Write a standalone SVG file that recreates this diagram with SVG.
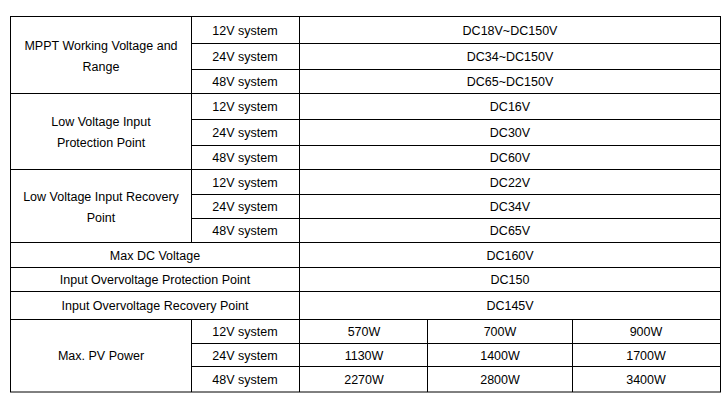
<svg xmlns="http://www.w3.org/2000/svg" width="723" height="400" viewBox="0 0 723 400">
<style>
.g line{stroke:#000;stroke-width:1}
text{font-family:"Liberation Sans",Arial,sans-serif;font-size:12.5px;fill:#000;text-anchor:middle}
</style>
<rect width="723" height="400" fill="#fff"/>
<g id="grid" class="g">
<rect x="10.5" y="16.5" width="710" height="375.5" fill="none" stroke="#000"/>
<line x1="191.5" y1="16" x2="191.5" y2="242"/>
<line x1="191.5" y1="319" x2="191.5" y2="392"/>
<line x1="299.5" y1="16" x2="299.5" y2="392"/>
<line x1="427.5" y1="319" x2="427.5" y2="392"/>
<line x1="572.5" y1="319" x2="572.5" y2="392"/>
<line x1="191" y1="43.5" x2="721" y2="43.5"/>
<line x1="191" y1="69.5" x2="721" y2="69.5"/>
<line x1="10" y1="93.5" x2="721" y2="93.5"/>
<line x1="191" y1="119.5" x2="721" y2="119.5"/>
<line x1="191" y1="145.5" x2="721" y2="145.5"/>
<line x1="10" y1="169.5" x2="721" y2="169.5"/>
<line x1="191" y1="194.5" x2="721" y2="194.5"/>
<line x1="191" y1="218.5" x2="721" y2="218.5"/>
<line x1="10" y1="242.5" x2="721" y2="242.5"/>
<line x1="10" y1="267.5" x2="721" y2="267.5"/>
<line x1="10" y1="291.5" x2="721" y2="291.5"/>
<line x1="10" y1="319.5" x2="721" y2="319.5"/>
<line x1="191" y1="343.5" x2="721" y2="343.5"/>
<line x1="191" y1="366.5" x2="721" y2="366.5"/>
</g>
<g id="labels">
<text x="101" y="50">MPPT Working Voltage and</text><text x="101" y="71">Range</text>
<text x="101" y="126">Low Voltage Input</text><text x="101" y="147">Protection Point</text>
<text x="101" y="201">Low Voltage Input Recovery</text><text x="101" y="222">Point</text>
<text x="155" y="260">Max DC Voltage</text>
<text x="155" y="284">Input Overvoltage Protection Point</text>
<text x="155" y="310">Input Overvoltage Recovery Point</text>
<text x="101" y="360">Max. PV Power</text>
</g>
<g id="systems">
<text x="245" y="35">12V system</text><text x="245" y="61">24V system</text><text x="245" y="86">48V system</text>
<text x="245" y="111">12V system</text><text x="245" y="137">24V system</text><text x="245" y="162">48V system</text>
<text x="245" y="187">12V system</text><text x="245" y="211">24V system</text><text x="245" y="235">48V system</text>
<text x="245" y="336">12V system</text><text x="245" y="360">24V system</text><text x="245" y="384">48V system</text>
</g>
<g id="values">
<text x="510" y="35">DC18V~DC150V</text><text x="510" y="61">DC34~DC150V</text><text x="510" y="86">DC65~DC150V</text>
<text x="510" y="111">DC16V</text><text x="510" y="137">DC30V</text><text x="510" y="162">DC60V</text>
<text x="510" y="187">DC22V</text><text x="510" y="211">DC34V</text><text x="510" y="235">DC65V</text>
<text x="510" y="260">DC160V</text><text x="510" y="284">DC150</text><text x="510" y="310">DC145V</text>
<text x="364" y="336">570W</text><text x="500" y="336">700W</text><text x="646" y="336">900W</text>
<text x="364" y="360">1130W</text><text x="500" y="360">1400W</text><text x="646" y="360">1700W</text>
<text x="364" y="384">2270W</text><text x="500" y="384">2800W</text><text x="646" y="384">3400W</text>
</g>
</svg>
